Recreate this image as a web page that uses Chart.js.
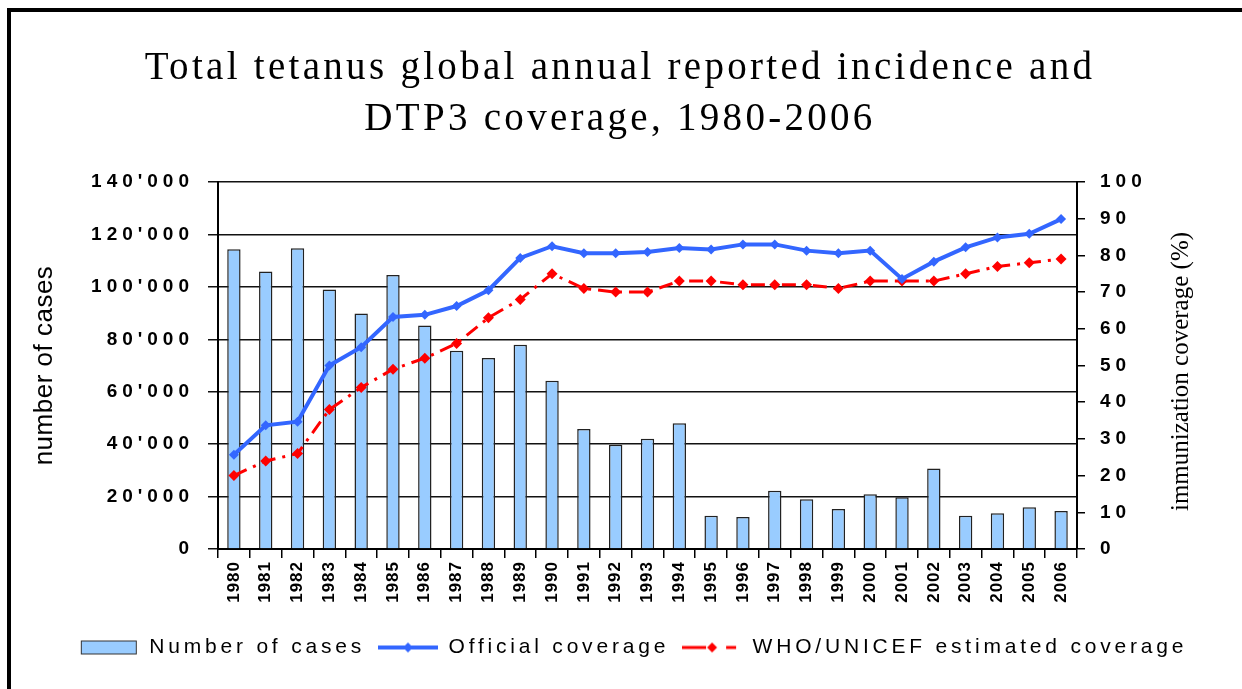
<!DOCTYPE html>
<html>
<head>
<meta charset="utf-8">
<title>Total tetanus global annual reported incidence and DTP3 coverage, 1980-2006</title>
<script src="https://cdn.jsdelivr.net/npm/chart.js@4.4.1/dist/chart.umd.min.js"></script>
<style>
  html, body { margin: 0; padding: 0; background: #fff; overflow: hidden; }
  #wrap { position: relative; width: 1242px; height: 689px; }
  #frame { position: absolute; left: 7px; top: 8px; width: 1400px; height: 900px; border: 4px solid #000; pointer-events: none; }
</style>
</head>
<body>
<div id="wrap">
  <canvas id="chart" width="1242" height="689"></canvas>
  <div id="frame"></div>
</div>
<script>
// DATA
const years = ['1980', '1981', '1982', '1983', '1984', '1985', '1986', '1987', '1988', '1989',
  '1990', '1991', '1992', '1993', '1994', '1995', '1996', '1997', '1998', '1999',
  '2000', '2001', '2002', '2003', '2004', '2005', '2006'];
const cases = [114300, 105900, 114700, 99000, 89800, 104500, 85300, 75600, 72900, 77900,
  64200, 45800, 39800, 42100, 48000, 12700, 12200, 22200, 19000, 15300,
  20900, 19700, 30700, 12700, 13600, 15900, 14500];
const official = [25.7, 33.7, 34.7, 50, 55, 63.2, 63.8, 66.2, 70.5, 79.3,
  82.5, 80.6, 80.6, 80.9, 82, 81.6, 83, 83, 81.3, 80.6,
  81.3, 73.6, 78.3, 82.2, 84.9, 85.9, 89.9];
const whoUnicef = [20, 24, 26, 38, 44, 49, 52, 56, 63, 68,
  75, 71, 70, 70, 73, 73, 72, 72, 72, 71,
  73, 73, 73, 75, 77, 78, 79];
const titleLines = ['Total tetanus global annual reported incidence and', 'DTP3 coverage, 1980-2006'];
const leftTitle = 'number of cases';
const rightTitle = 'immunization coverage (%)';

const SANS = '"Liberation Sans", Arial, sans-serif';
const SERIF = '"Liberation Serif", "Times New Roman", serif';
Chart.defaults.font.family = SANS;
Chart.defaults.color = '#000';

// small canvases used as legend symbols
function icon(draw) {
  const c = document.createElement('canvas');
  c.width = 60; c.height = 16;
  draw(c.getContext('2d'));
  return c;
}
function diamond(g, cx, cy, r) {
  g.beginPath();
  g.moveTo(cx, cy - r); g.lineTo(cx + r, cy); g.lineTo(cx, cy + r); g.lineTo(cx - r, cy);
  g.closePath(); g.fill();
}
const barIcon = icon(g => {
  g.fillStyle = '#99ccff'; g.fillRect(2.5, 1.5, 55, 13);
  g.strokeStyle = '#333'; g.lineWidth = 1; g.strokeRect(2.5, 1.5, 55, 13);
});
const officialIcon = icon(g => {
  g.strokeStyle = '#3366ff'; g.lineWidth = 4;
  g.beginPath(); g.moveTo(0, 8); g.lineTo(60, 8); g.stroke();
  g.fillStyle = '#3366ff'; diamond(g, 30, 8, 5);
});
const whoIcon = icon(g => {
  g.strokeStyle = '#ff0000'; g.lineWidth = 3;
  g.beginPath(); g.moveTo(0, 8); g.lineTo(24, 8); g.moveTo(44, 8); g.lineTo(54, 8); g.stroke();
  g.fillStyle = '#ff0000'; diamond(g, 30, 8, 5);
});

// canvas letter spacing for some boxes (Chart.js has no option for it)
function withSpacing(obj, method, px, shiftX) {
  const orig = obj[method];
  obj[method] = function (...args) {
    const ctx = this.ctx;
    const prev = ctx.letterSpacing;
    ctx.letterSpacing = px;
    if (shiftX) { ctx.save(); ctx.translate(shiftX, 0); }
    const r = orig.apply(this, args);
    if (shiftX) ctx.restore();
    ctx.letterSpacing = prev;
    return r;
  };
}
const spacingPlugin = {
  id: 'spacing',
  beforeLayout(chart) {
    if (chart._spaced) return;
    chart._spaced = true;
    withSpacing(chart.titleBlock, 'draw', '3.3px');
    withSpacing(chart.legend, 'update', '3.8px');
    withSpacing(chart.legend, 'draw', '3.8px', 13);
    withSpacing(chart.scales.y, 'update', '5px');
    withSpacing(chart.scales.y, 'drawLabels', '5px');
    withSpacing(chart.scales.y, 'drawTitle', '0.5px');
    withSpacing(chart.scales.y1, 'update', '5px');
    withSpacing(chart.scales.y1, 'drawLabels', '5px');
    withSpacing(chart.scales.x, 'update', '1px');
    withSpacing(chart.scales.x, 'drawLabels', '1px');
  }
};

// right axis title reads bottom to top, like the left one
const rightTitlePlugin = {
  id: 'rightTitle',
  afterDraw(chart) {
    const ctx = chart.ctx;
    const a = chart.chartArea;
    ctx.save();
    ctx.translate(chart.scales.y1.right - 39, (a.top + a.bottom) / 2 + 6);
    ctx.rotate(-Math.PI / 2);
    ctx.font = '25px ' + SERIF;
    ctx.fillStyle = '#000';
    ctx.textAlign = 'center';
    ctx.textBaseline = 'middle';
    ctx.fillText(rightTitle, 0, 0);
    ctx.restore();
  }
};

new Chart(document.getElementById('chart'), {
  type: 'bar',
  data: {
    labels: years,
    datasets: [
      {
        type: 'bar', label: 'Number of cases', data: cases, yAxisID: 'y',
        backgroundColor: '#99ccff', borderColor: '#222', borderWidth: 1.5,
        barPercentage: 0.42, categoryPercentage: 1, order: 3
      },
      {
        type: 'line', label: 'Official coverage', data: official, yAxisID: 'y1',
        borderColor: '#3366ff', backgroundColor: '#3366ff', borderWidth: 4,
        pointStyle: 'rectRot', pointRadius: 5, pointBorderWidth: 0, tension: 0, order: 1
      },
      {
        type: 'line', label: 'WHO/UNICEF estimated coverage', data: whoUnicef, yAxisID: 'y1',
        borderColor: '#ff0000', backgroundColor: '#ff0000', borderWidth: 3, borderDash: [14, 7, 3, 7],
        pointStyle: 'rectRot', pointRadius: 5.5, pointBorderWidth: 0, tension: 0, order: 2
      }
    ]
  },
  options: {
    responsive: false,
    animation: false,
    devicePixelRatio: 1,
    layout: { padding: { left: 20, right: 22, top: 20, bottom: 21 } },
    plugins: {
      title: {
        display: true, text: titleLines, color: '#000',
        font: { family: SERIF, size: 39, weight: 'normal', lineHeight: 51 / 39 },
        padding: { top: 23, bottom: 37 }
      },
      legend: {
        position: 'bottom',
        labels: {
          usePointStyle: true, pointStyleWidth: 60, padding: 13, color: '#000',
          font: { family: SANS, size: 21 },
          generateLabels: () => [
            { text: 'Number of cases', pointStyle: barIcon, hidden: false, lineWidth: 0, datasetIndex: 0 },
            { text: 'Official coverage', pointStyle: officialIcon, hidden: false, lineWidth: 0, datasetIndex: 1 },
            { text: 'WHO/UNICEF estimated coverage', pointStyle: whoIcon, hidden: false, lineWidth: 0, datasetIndex: 2 }
          ]
        }
      },
      tooltip: { enabled: false }
    },
    scales: {
      x: {
        grid: { drawOnChartArea: false, drawTicks: true, tickLength: 9, color: '#000', lineWidth: 1.5, offset: true },
        border: { color: '#000', width: 2 },
        ticks: { autoSkip: false, maxRotation: 90, minRotation: 90, padding: 3, color: '#000',
          font: { size: 17, weight: 'bold' } },
        afterFit: s => { s.height = 75; }
      },
      y: {
        position: 'left', min: 0, max: 140000,
        ticks: { stepSize: 20000, padding: 14, color: '#000', font: { size: 19, weight: 'bold' },
          callback: v => v === 0 ? '0' : (v / 1000) + "'000" },
        grid: { color: '#111', lineWidth: 1.5, tickLength: 10 },
        border: { color: '#000', width: 2 },
        title: { display: true, text: leftTitle, color: '#000', font: { size: 26 }, padding: { top: 9, bottom: 0 } },
        afterFit: s => { s.width = 198; }
      },
      y1: {
        position: 'right', min: 0, max: 100,
        ticks: { stepSize: 10, padding: 15, color: '#000', font: { size: 19, weight: 'bold' } },
        grid: { drawOnChartArea: false, tickLength: 8, color: '#000', lineWidth: 1.5 },
        border: { color: '#000', width: 2 },
        afterFit: s => { s.width = 143; }
      }
    }
  },
  plugins: [spacingPlugin, rightTitlePlugin]
});
</script>
</body>
</html>
